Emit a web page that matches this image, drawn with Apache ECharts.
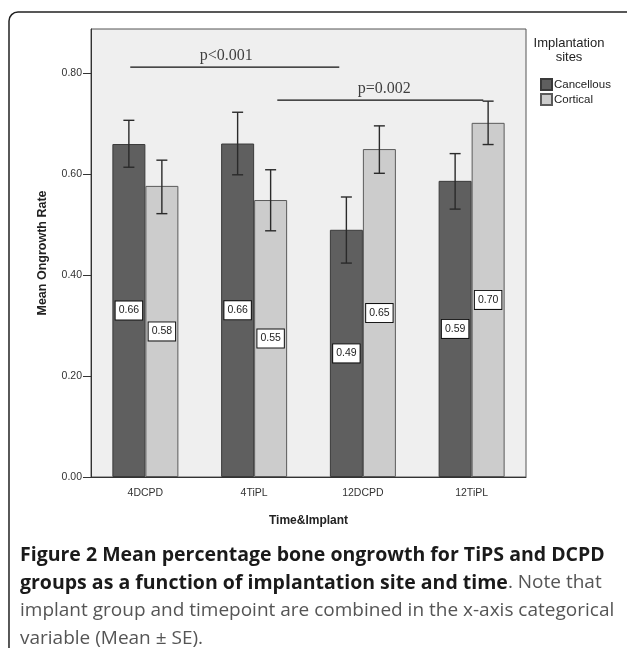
<!DOCTYPE html>
<html><head><meta charset="utf-8">
<script src="https://cdn.jsdelivr.net/npm/echarts@6/dist/echarts.min.js"></script>
<style>html,body{margin:0;padding:0;background:#fff}#c{width:627px;height:648px}</style>
</head><body><div id="c"></div>
<script>
const categories = ['4DCPD', '4TiPL', '12DCPD', '12TiPL'];
const cancellousMean = [0.660, 0.661, 0.490, 0.587];
const cancellousLow  = [0.614, 0.599, 0.424, 0.531];
const cancellousHigh = [0.707, 0.723, 0.555, 0.641];
const corticalMean = [0.577, 0.549, 0.650, 0.702];
const corticalLow  = [0.522, 0.488, 0.602, 0.659];
const corticalHigh = [0.628, 0.609, 0.696, 0.745];
const yTicks = [0, 0.2, 0.4, 0.6, 0.8];
// significance annotations (x on a 0..4 category-span scale, y in data units)
const sig1X = [0.361, 2.283];
const sig1Y = 0.8125;
const sig1TextX = 1.244;
const sig1Text = 'p<0.001';
const sig2X = [1.713, 3.607];
const sig2Y = 0.747;
const sig2TextX = 2.697;
const sig2Text = 'p=0.002';

const BAR_W = 33;
const SANS = '"Liberation Sans", Arial, sans-serif';

function errorSeries(low, high, side) {
  return {
    type: 'custom', xAxisIndex: 0, yAxisIndex: 0, z: 10, silent: true,
    data: categories.map((c, i) => [i, low[i], high[i]]),
    renderItem(params, api) {
      const p0 = api.coord([api.value(0), api.value(1)]);
      const p1 = api.coord([api.value(0), api.value(2)]);
      const x = p0[0] + side * BAR_W / 2;
      const cap = 5.5;
      const st = { stroke: '#2a2a2a', lineWidth: 1.4 };
      return { type: 'group', children: [
        { type: 'line', shape: { x1: x, y1: p0[1], x2: x, y2: p1[1] }, style: st },
        { type: 'line', shape: { x1: x - cap, y1: p0[1], x2: x + cap, y2: p0[1] }, style: st },
        { type: 'line', shape: { x1: x - cap, y1: p1[1], x2: x + cap, y2: p1[1] }, style: st }
      ]};
    }
  };
}

const barLabel = {
  show: true, position: 'inside',
  formatter: p => p.value.toFixed(2),
  backgroundColor: '#fff', borderColor: '#111', borderWidth: 1,
  padding: [4, 3, 3, 3], fontSize: 10.5, color: '#222', fontFamily: SANS
};

const chart = echarts.init(document.getElementById('c'), null, { renderer: 'canvas' });
chart.setOption({
  backgroundColor: '#fff',
  animation: false,
  grid: { left: 91, right: 101, top: 29, bottom: 171, show: true,
          backgroundColor: '#efefef', borderColor: '#555', borderWidth: 1 },
  legend: {
    data: ['Cancellous', 'Cortical'], orient: 'vertical', left: 535, top: 73,
    itemWidth: 11, itemHeight: 11, itemGap: 2, icon: 'rect',
    textStyle: { fontSize: 11.5, color: '#222', fontFamily: SANS, padding: [0, 0, 0, -3] }
  },
  xAxis: [{
    type: 'category', data: categories,
    axisLine: { lineStyle: { color: '#333', width: 1 } },
    axisTick: { alignWithLabel: true, length: 8, lineStyle: { color: '#333' } },
    axisLabel: { fontSize: 10.5, color: '#333', fontFamily: SANS, margin: 11 },
    name: 'Time&Implant', nameLocation: 'middle', nameGap: 38,
    nameTextStyle: { fontSize: 12, fontWeight: 'bold', color: '#222', fontFamily: SANS }
  }, {
    type: 'value', min: 0, max: 4, show: false, position: 'top'
  }],
  yAxis: {
    type: 'value', min: 0, max: 0.888, interval: 0.2,
    splitLine: { show: false },
    axisLine: { show: true, lineStyle: { color: '#333', width: 1 } },
    axisTick: { show: true, length: 8, lineStyle: { color: '#333' }, customValues: yTicks },
    axisLabel: { fontSize: 10.5, color: '#333', fontFamily: SANS, margin: 9,
                 customValues: yTicks, formatter: v => v.toFixed(2) },
    name: 'Mean Ongrowth Rate', nameLocation: 'middle', nameGap: 42,
    nameTextStyle: { fontSize: 12.5, fontWeight: 'bold', color: '#222', fontFamily: SANS }
  },
  series: [
    { name: 'Cancellous', type: 'bar', data: cancellousMean, barWidth: BAR_W, barGap: '0%',
      itemStyle: { color: '#5f5f5f', borderColor: '#3a3a3a', borderWidth: 1 }, label: barLabel },
    { name: 'Cortical', type: 'bar', data: corticalMean, barWidth: BAR_W, barGap: '0%',
      itemStyle: { color: '#cccccc', borderColor: '#5a5a5a', borderWidth: 1 }, label: barLabel },
    errorSeries(cancellousLow, cancellousHigh, -1),
    errorSeries(corticalLow, corticalHigh, 1),
    { type: 'line', xAxisIndex: 1, yAxisIndex: 0, data: sig1X.map(x => [x, sig1Y]),
      symbol: 'none', lineStyle: { color: '#111', width: 1.3 }, silent: true, z: 11 },
    { type: 'line', xAxisIndex: 1, yAxisIndex: 0, data: sig2X.map(x => [x, sig2Y]),
      symbol: 'none', lineStyle: { color: '#111', width: 1.3 }, silent: true, z: 11 },
    { type: 'scatter', xAxisIndex: 1, yAxisIndex: 0, symbolSize: 0, silent: true,
      data: [[sig1TextX, sig1Y, sig1Text], [sig2TextX, sig2Y, sig2Text]],
      label: { show: true, position: 'top', distance: 3, formatter: p => p.value[2],
               fontSize: 16, color: '#111', fontFamily: '"Liberation Serif", "Times New Roman", serif' } }
  ],
  graphic: [
    { type: 'rect', shape: { x: 9, y: 12, width: 700, height: 700, r: 9 },
      style: { fill: 'none', stroke: '#222', lineWidth: 1.5 }, z: -1 },
    { type: 'text', x: 569, y: 36, style: { text: 'Implantation\nsites', align: 'center',
      fontSize: 13, lineHeight: 14, fill: '#222', fontFamily: SANS } },
    { type: 'text', x: 20, y: 541, style: {
      text: '{b|Figure 2 Mean percentage bone ongrowth for TiPS and DCPD}\n' +
            '{b|groups as a function of implantation site and time}{n|. Note that}\n' +
            '{n|implant group and timepoint are combined in the x-axis categorical}\n' +
            '{n|variable (Mean ± SE).}',
      rich: {
        b: { fontSize: 19.5, fontWeight: 'bold', fill: '#1a1a1a', fontFamily: '"Open Sans", sans-serif', lineHeight: 28 },
        n: { fontSize: 19, fill: '#555', fontFamily: '"Open Sans", sans-serif', lineHeight: 28 }
      } } }
  ]
});
</script></body></html>
